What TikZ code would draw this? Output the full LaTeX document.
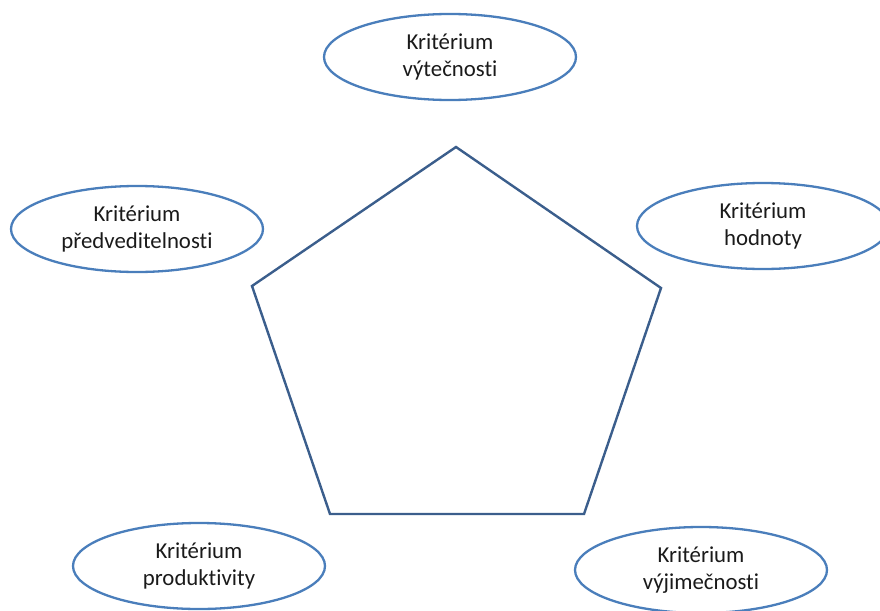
\documentclass[tikz,border=0pt]{standalone}
\usepackage{fontspec}
\setmainfont[Ligatures=NoCommon]{Carlito}
\usetikzlibrary{shapes.geometric}
\definecolor{ellblue}{HTML}{4A7EBB}
\definecolor{pentblue}{HTML}{3B5E8C}
\definecolor{txt}{HTML}{1A1A1A}
\tikzset{
  crit/.style={ellipse, draw=ellblue, line width=2.3pt, minimum width=252pt, minimum height=86pt,
    inner sep=0pt, align=center, text=txt, font=\fontsize{22.8}{27}\selectfont},
  pent/.style={draw=pentblue, line width=2.4pt, line join=miter}
}
\begin{document}
\begin{tikzpicture}[x=1pt,y=-1pt]
\useasboundingbox (0,0) rectangle (880,610);
\begin{scope}
\clip (0,0) rectangle (880,610);
\node[crit] (top) at (450,57) {Kritérium\\výtečnosti};
\node[crit] (left) at (137,229) {Kritérium\\předveditelnosti};
\node[crit] (right) at (763,226) {Kritérium\\hodnoty};
\node[crit] (bl) at (199,566) {Kritérium\\produktivity};
\node[crit] (br) at (701,570) {Kritérium\\výjimečnosti};
\coordinate (p1) at (456,147);
\coordinate (p2) at (661,288);
\coordinate (p3) at (584,514);
\coordinate (p4) at (330,514);
\coordinate (p5) at (252,286);
\draw[pent] (p1) -- (p2) -- (p3) -- (p4) -- (p5) -- cycle;
\end{scope}
\end{tikzpicture}
\end{document}
